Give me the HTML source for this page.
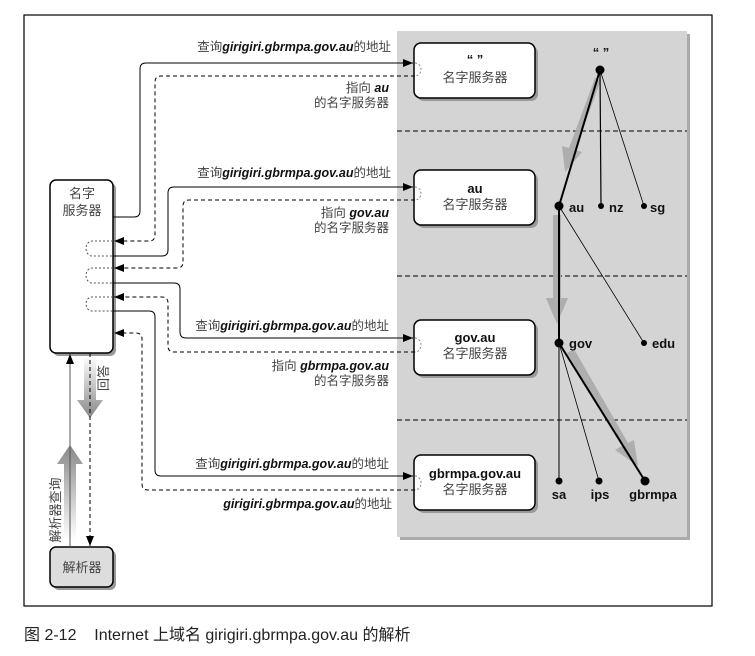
<!DOCTYPE html>
<html><head><meta charset="utf-8"><style>
html,body{margin:0;padding:0;background:#fff;}
svg{display:block;}
text{font-family:"Liberation Sans","Noto Sans CJK SC",sans-serif;}
.cj{font-size:12.5px;fill:#444;}
.b{font-weight:bold;font-style:italic;fill:#111;}
.t{font-size:13px;font-weight:bold;fill:#111;}
</style></head><body>
<svg width="755" height="656" viewBox="0 0 755 656" xmlns="http://www.w3.org/2000/svg">
<defs>
<marker id="ah" markerWidth="10" markerHeight="8" refX="10" refY="4" orient="auto" markerUnits="userSpaceOnUse"><path d="M0,0 L10,4 L0,8 Z" fill="#000"/></marker>
<linearGradient id="gd" x1="0" y1="0" x2="0" y2="1"><stop offset="0" stop-color="#fff"/><stop offset="1" stop-color="#888"/></linearGradient>
<linearGradient id="gu" x1="0" y1="1" x2="0" y2="0"><stop offset="0" stop-color="#fff"/><stop offset="1" stop-color="#888"/></linearGradient>
</defs>
<rect x="24" y="15" width="688" height="591" fill="#fff" stroke="#000" stroke-width="1.2"/>
<rect x="400" y="34" width="290" height="506" fill="#aaa"/>
<rect x="397" y="31" width="290" height="506" fill="#d4d4d4"/>
<g stroke="#000" stroke-dasharray="5,3" stroke-width="1">
<line x1="397" y1="131" x2="687" y2="131"/><line x1="397" y1="276" x2="687" y2="276"/><line x1="397" y1="420" x2="687" y2="420"/>
</g>
<g fill="#aaa" opacity="0.9">
<path d="M595,78 L569,148 L562,146 L565,172 L582,152 L575,150 L601,80 Z"/>
<path d="M553,215 L553,298 L546,298 L557,324 L568,298 L561,298 L561,215 Z"/>
<path d="M567,353 L622,446 L615,450 L638,466 L634,440 L628,443 L574,349 Z"/>
</g>
<g stroke="#000" fill="none">
<line x1="600" y1="70" x2="559" y2="206" stroke-width="2"/>
<line x1="600" y1="70" x2="601" y2="206" stroke-width="1.2"/>
<line x1="600" y1="70" x2="644" y2="206" stroke-width="0.8"/>
<line x1="559" y1="206" x2="559" y2="343" stroke-width="2"/>
<line x1="559" y1="206" x2="644" y2="343" stroke-width="0.8"/>
<line x1="559" y1="343" x2="559" y2="481" stroke-width="1"/>
<line x1="559" y1="343" x2="599" y2="481" stroke-width="0.8"/>
<line x1="559" y1="343" x2="645" y2="481" stroke-width="2"/>
</g>
<g fill="#000">
<circle cx="600" cy="70" r="4.5"/><circle cx="559" cy="206" r="4.5"/><circle cx="601" cy="206" r="3"/><circle cx="644" cy="206" r="3"/>
<circle cx="559" cy="343" r="4.5"/><circle cx="644" cy="343" r="3"/><circle cx="559" cy="481" r="3.5"/><circle cx="599" cy="481" r="3.5"/><circle cx="645" cy="481" r="4.5"/>
</g>
<text x="601" y="57" class="t" text-anchor="middle">“ ”</text>
<text x="569" y="212" class="t">au</text><text x="609" y="212" class="t">nz</text><text x="650" y="212" class="t">sg</text>
<text x="569" y="348" class="t">gov</text><text x="652" y="348" class="t">edu</text>
<text x="559" y="499" class="t" text-anchor="middle">sa</text><text x="600" y="499" class="t" text-anchor="middle">ips</text><text x="653" y="499" class="t" text-anchor="middle">gbrmpa</text>
<g stroke="#000" stroke-width="1.5">
<rect x="417" y="46" width="121" height="55" rx="7" fill="#999" stroke="none"/>
<rect x="414" y="43" width="121" height="55" rx="7" fill="#fff"/>
<rect x="417" y="173" width="121" height="55" rx="7" fill="#999" stroke="none"/>
<rect x="414" y="170" width="121" height="55" rx="7" fill="#fff"/>
<rect x="417" y="323" width="121" height="55" rx="7" fill="#999" stroke="none"/>
<rect x="414" y="320" width="121" height="55" rx="7" fill="#fff"/>
<rect x="417" y="458" width="121" height="55" rx="7" fill="#999" stroke="none"/>
<rect x="414" y="455" width="121" height="55" rx="7" fill="#fff"/>
</g>
<g stroke="#888" fill="none" stroke-dasharray="2,2">
<path d="M415,63 a6,6.5 0 0 1 0,13"/><path d="M415,187 a6,6.5 0 0 1 0,13"/><path d="M415,338 a6,7 0 0 1 0,14"/><path d="M415,476 a6,7 0 0 1 0,14"/>
</g>
<text x="475" y="64" class="t" text-anchor="middle">“ ”</text>
<text x="475" y="82" class="cj" text-anchor="middle" style="font-size:13px">名字服务器</text>
<text x="475" y="193" class="t" text-anchor="middle">au</text>
<text x="475" y="209" class="cj" text-anchor="middle" style="font-size:13px">名字服务器</text>
<text x="475" y="342" class="t" text-anchor="middle">gov.au</text>
<text x="475" y="358" class="cj" text-anchor="middle" style="font-size:13px">名字服务器</text>
<text x="475" y="478" class="t" text-anchor="middle">gbrmpa.gov.au</text>
<text x="475" y="494" class="cj" text-anchor="middle" style="font-size:13px">名字服务器</text>
<rect x="53" y="183" width="63" height="173" rx="6" fill="#999"/>
<rect x="50" y="180" width="63" height="173" rx="6" fill="#fff" stroke="#000" stroke-width="1.5"/>
<text x="82" y="198" class="cj" text-anchor="middle" style="font-size:13px">名字</text>
<text x="82" y="215" class="cj" text-anchor="middle" style="font-size:13px">服务器</text>
<rect x="53" y="550" width="63" height="40" rx="6" fill="#999"/>
<rect x="50" y="547" width="63" height="40" rx="6" fill="#ddd" stroke="#000" stroke-width="1.5"/>
<text x="82" y="572" class="cj" text-anchor="middle" style="font-size:13px">解析器</text>
<g stroke="#555" fill="none" stroke-dasharray="2,2">
<path d="M113,241 H92 a6,7.5 0 0 0 0,15 H113"/>
<path d="M113,268 H92 a6,7.5 0 0 0 0,15 H113"/>
<path d="M113,297 H92 a6,7 0 0 0 0,14 H113"/>
</g>
<g fill="none" stroke="#000" stroke-width="1">
<path d="M113,217 H134 q6,0 6,-6 V69 q0,-6 6,-6 H413" marker-end="url(#ah)"/>
<path d="M113,256 H162 q6,0 6,-6 V193 q0,-6 6,-6 H413" marker-end="url(#ah)"/>
<path d="M113,283 H174 q6,0 6,6 V332 q0,6 6,6 H413" marker-end="url(#ah)"/>
<path d="M113,311 H149 q6,0 6,6 V470 q0,6 6,6 H413" marker-end="url(#ah)"/>
</g>
<g fill="none" stroke="#000" stroke-width="1" stroke-dasharray="4,3">
<path d="M415,76 H161 q-6,0 -6,6 V235 q0,6 -6,6 H114" marker-end="url(#ah)"/>
<path d="M415,200 H189 q-6,0 -6,6 V262 q0,6 -6,6 H114" marker-end="url(#ah)"/>
<path d="M415,352 H174 q-6,0 -6,-6 V303 q0,-6 -6,-6 H114" marker-end="url(#ah)"/>
<path d="M415,490 H148 q-6,0 -6,-6 V339 q0,-6 -6,-6 H114" marker-end="url(#ah)"/>
</g>
<g class="cj" text-anchor="end">
<text x="391" y="51">查询<tspan class="b">girigiri.gbrmpa.gov.au</tspan>的地址</text>
<text x="389" y="92">指向 <tspan class="b">au</tspan></text>
<text x="389" y="107">的名字服务器</text>
<text x="391" y="177">查询<tspan class="b">girigiri.gbrmpa.gov.au</tspan>的地址</text>
<text x="389" y="217">指向 <tspan class="b">gov.au</tspan></text>
<text x="389" y="232">的名字服务器</text>
<text x="389" y="330">查询<tspan class="b">girigiri.gbrmpa.gov.au</tspan>的地址</text>
<text x="389" y="370">指向 <tspan class="b">gbrmpa.gov.au</tspan></text>
<text x="389" y="385">的名字服务器</text>
<text x="389" y="468">查询<tspan class="b">girigiri.gbrmpa.gov.au</tspan>的地址</text>
<text x="392" y="508"><tspan class="b">girigiri.gbrmpa.gov.au</tspan>的地址</text>
</g>
<path d="M84,356 H96 V400 H103 L90,418 L77,400 H84 Z" fill="url(#gd)"/>
<path d="M64,540 V464 H57 L70,445 L83,464 H76 V540 Z" fill="url(#gu)"/>
<line x1="70" y1="547" x2="70" y2="354" stroke="#555" marker-end="url(#ah)"/>
<line x1="90" y1="353" x2="90" y2="546" stroke="#000" stroke-dasharray="4,3" marker-end="url(#ah)"/>
<text class="cj" transform="translate(108,378) rotate(-90)" text-anchor="middle" style="font-size:13px">回答</text>
<text class="cj" transform="translate(60,510) rotate(-90)" text-anchor="middle" style="font-size:13px">解析器查询</text>
<text x="24" y="640" style="font-size:16px;fill:#222;">图 2-12&#160;&#160;&#160;&#160;Internet 上域名 girigiri.gbrmpa.gov.au 的解析</text>
</svg>
</body></html>
